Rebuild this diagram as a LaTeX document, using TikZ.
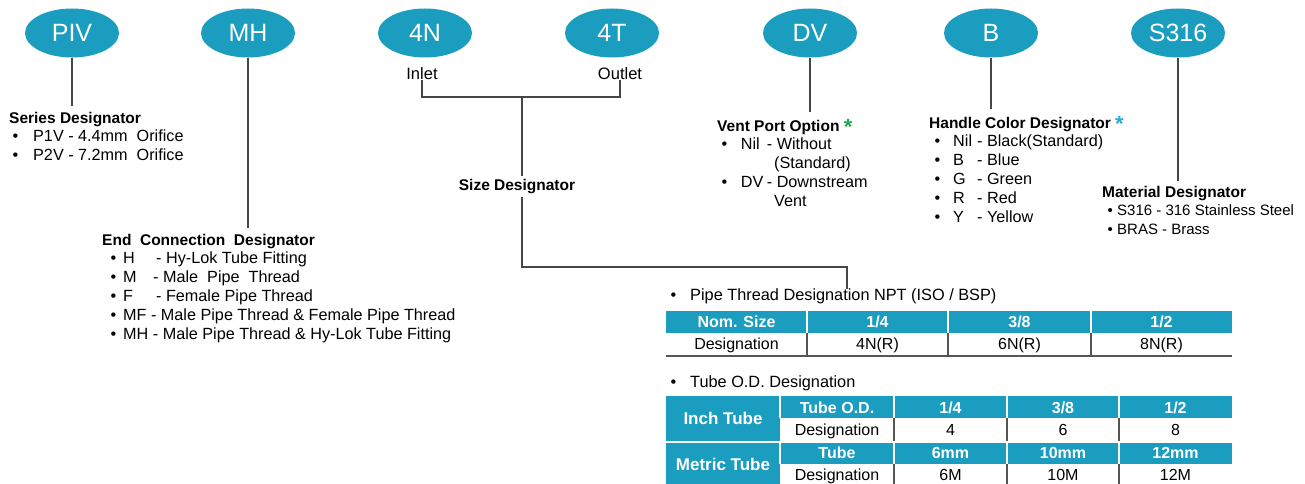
\documentclass[tikz,border=0pt]{standalone}
\usepackage{fontspec}
\setmainfont{Liberation Sans}
\usetikzlibrary{positioning}
\usetikzlibrary{shapes.geometric}
\definecolor{hylokteal}{RGB}{27,157,192}
\definecolor{ventgreen}{RGB}{38,166,76}
\definecolor{handleblue}{RGB}{41,168,214}
\definecolor{leadgray}{RGB}{70,70,70}
\definecolor{rulegray}{RGB}{85,85,85}
\newcommand{\bulletat}[2]{\hspace*{#1pt}\makebox[#2pt][l]{\textbullet}}
\newcommand{\titlefont}{\bfseries\fontsize{15.5}{19}\selectfont}
\newcommand{\bigstar}[1]{\raisebox{-2.5pt}{\textcolor{#1}{\fontsize{22}{22}\selectfont *}}}

\begin{document}
\begin{tikzpicture}[x=1pt, y=-1pt,
        codeoval/.style={ellipse, fill=hylokteal, text=white, minimum width=94pt, minimum height=49pt,
                         inner sep=0pt, font=\fontsize{25}{25}\selectfont},
        lead/.style={draw=leadgray, line width=1.3pt},
        desgblock/.style={anchor=north west, inner sep=0pt, align=left, font=\fontsize{16.2}{19}\selectfont},
        portlabel/.style={anchor=base, inner sep=0pt, font=\fontsize{16.5}{16.5}\selectfont},
        notelabel/.style={anchor=base west, inner sep=0pt, font=\fontsize{16.3}{16.3}\selectfont},
        hdtext/.style={anchor=base, inner sep=0pt, text=white, font=\bfseries\fontsize{16}{16}\selectfont},
        dttext/.style={anchor=base, inner sep=0pt, font=\fontsize{16}{16}\selectfont},
        sidetext/.style={anchor=base, inner sep=0pt, text=white, font=\bfseries\fontsize{17}{17}\selectfont}]
            \useasboundingbox (0,0) rectangle (1305,484);

            % code ovals
            \node[codeoval] (piv)  at (  72,33) {PIV};
            \node[codeoval] (mh)   at ( 248,33) {MH};
            \node[codeoval] (fourn) at (425,33) {4N};
            \node[codeoval] (fourt) at (612,33) {4T};
            \node[codeoval] (dv)   at ( 810,33) {DV};
            \node[codeoval] (b)    at ( 991,33) {B};
            \node[codeoval] (sss)  at (1178,33) {S316};

            % designator blocks
            \node[desgblock] (series) at (9,110.2) {\begin{tabular}{@{}l@{}}
                {\titlefont Series Designator}\\[-1.5pt]
                \bulletat{3.4}{20.6}P1V - 4.4mm\ \ Orifice\\
                \bulletat{3.4}{20.6}P2V - 7.2mm\ \ Orifice
            \end{tabular}};
            \node[desgblock] (endconn) at (102,232.2) {\begin{tabular}{@{}l@{}}
                {\titlefont End\ \ Connection\ \ Designator}\\[-1.5pt]
                \bulletat{8.4}{12.6}\makebox[33pt][l]{H}- Hy-Lok Tube Fitting\\
                \bulletat{8.4}{12.6}\makebox[30pt][l]{M}- Male\ \ Pipe\ \ Thread\\
                \bulletat{8.4}{12.6}\makebox[33pt][l]{F}- Female Pipe Thread\\
                \bulletat{8.4}{12.6}MF - Male Pipe Thread \& Female Pipe Thread\\
                \bulletat{8.4}{12.6}MH - Male Pipe Thread \& Hy-Lok Tube Fitting
            \end{tabular}};
            \node[desgblock] (vent) at (717,118.2) {\begin{tabular}{@{}l@{}}
                {\titlefont Vent Port Option \bigstar{ventgreen}}\\[-1.5pt]
                \bulletat{4.4}{19.3}\makebox[26pt][l]{Nil}- Without\\
                \hspace*{57pt}(Standard)\\
                \bulletat{4.4}{19.3}\makebox[26pt][l]{DV}- Downstream\\
                \hspace*{57pt}Vent
            \end{tabular}};
            \node[desgblock] (handle) at (929,115.2) {\begin{tabular}{@{}l@{}}
                {\titlefont Handle Color Designator \bigstar{handleblue}}\\[-1.5pt]
                \bulletat{5.4}{18.6}\makebox[24pt][l]{Nil}- Black(Standard)\\
                \bulletat{5.4}{18.6}\makebox[24pt][l]{B}- Blue\\
                \bulletat{5.4}{18.6}\makebox[24pt][l]{G}- Green\\
                \bulletat{5.4}{18.6}\makebox[24pt][l]{R}- Red\\
                \bulletat{5.4}{18.6}\makebox[24pt][l]{Y}- Yellow
            \end{tabular}};
            \node[desgblock, font=\fontsize{15}{19}\selectfont] (material) at (1102,184.2) {\begin{tabular}{@{}l@{}}
                {\titlefont Material Designator}\\[-1.5pt]
                \bulletat{5.4}{9.6}S316 - 316 Stainless Steel\\
                \bulletat{5.4}{9.6}BRAS - Brass
            \end{tabular}};

            % size designator
            \node[portlabel] (inlet)  at (422,79.7) {Inlet};
            \node[portlabel] (outlet) at (620,79.7) {Outlet};
            \node[anchor=base, inner sep=3pt, font=\titlefont] (sizedesg) at (517,190.5) {Size Designator};
            \coordinate (sizejoin) at (522,97);
            \coordinate (sizebend) at (847,267);
            \node[notelabel] (nptnote)  at (670.4,300.7) {\makebox[19.6pt][l]{\textbullet}Pipe Thread Designation NPT (ISO / BSP)};
            \node[notelabel] (tubenote) at (670.4,387.7) {\makebox[19.6pt][l]{\textbullet}Tube O.D. Designation};

            % leads
            \draw[lead, shorten >=4pt] (piv) -- (piv |- series.north);
            \draw[lead, shorten >=4pt] (mh)  -- (mh |- endconn.north);
            \draw[lead, shorten >=6pt] (dv)  -- (dv |- vent.north);
            \draw[lead, shorten >=6pt] (b)   -- (b |- handle.north);
            \draw[lead, shorten >=3pt] (sss) -- (sss |- material.north);
            \draw[lead] (inlet) |- (sizejoin) -| (outlet);
            \draw[lead] (sizejoin) -- (sizejoin |- sizedesg.north);
            \draw[lead] (sizejoin |- sizedesg.south) |- (sizebend) -- (sizebend |- nptnote.north);

            % pipe thread table
            \fill[hylokteal] (666,311) rectangle (1232,333);
            \draw[white, line width=1.5pt] (807,311) -- (807,333) (948,311) -- (948,333) (1091,311) -- (1091,333);
            \draw[rulegray, line width=1.2pt] (807,333) -- (807,355) (948,333) -- (948,355) (1091,333) -- (1091,355);
            \draw[rulegray, line width=1.5pt] (666,356) -- (1232,356);
            \node[hdtext] (nomsize) at ( 736.5,327.7) {Nom. Size};
            \node[hdtext] (npta)    at ( 877.5,327.7) {1/4};
            \node[hdtext] (nptb)    at (1019.5,327.7) {3/8};
            \node[hdtext] (nptc)    at (1161.5,327.7) {1/2};
            \node[dttext] (nptdesg) at ( 736.5,349.7) {Designation};
            \node[dttext] (nptda)   at ( 877.5,349.7) {4N(R)};
            \node[dttext] (nptdb)   at (1019.5,349.7) {6N(R)};
            \node[dttext] (nptdc)   at (1161.5,349.7) {8N(R)};

            % tube o.d. table
            \fill[hylokteal] (666,396) rectangle (780,441);
            \fill[hylokteal] (666,443) rectangle (780,484);
            \fill[hylokteal] (780,396) rectangle (1232,418);
            \fill[hylokteal] (780,443) rectangle (1232,464);
            \draw[white, line width=1.5pt] (780,396) -- (780,418) (894,396) -- (894,418) (1007,396) -- (1007,418) (1119,396) -- (1119,418)
                                           (780,443) -- (780,464) (894,443) -- (894,464) (1007,443) -- (1007,464) (1119,443) -- (1119,464);
            \draw[rulegray, line width=1.2pt] (894,418) -- (894,441) (1007,418) -- (1007,441) (1119,418) -- (1119,441)
                                              (894,464) -- (894,484) (1007,464) -- (1007,484) (1119,464) -- (1119,484);
            \node[sidetext] (inchtube)   at (723,424.1) {Inch Tube};
            \node[sidetext] (metrictube) at (723,470.1) {Metric Tube};
            \node[hdtext] (tubeod)   at ( 837,413.2) {Tube O.D.};
            \node[hdtext] (incha)    at ( 950.5,413.2) {1/4};
            \node[hdtext] (inchb)    at (1063,413.2) {3/8};
            \node[hdtext] (inchc)    at (1175.5,413.2) {1/2};
            \node[dttext] (inchdesg) at ( 837,435.7) {Designation};
            \node[dttext] (inchda)   at ( 950.5,435.7) {4};
            \node[dttext] (inchdb)   at (1063,435.7) {6};
            \node[dttext] (inchdc)   at (1175.5,435.7) {8};
            \node[hdtext] (tubemm)   at ( 837,458.2) {Tube};
            \node[hdtext] (metrica)  at ( 950.5,458.2) {6mm};
            \node[hdtext] (metricb)  at (1063,458.2) {10mm};
            \node[hdtext] (metricc)  at (1175.5,458.2) {12mm};
            \node[dttext] (metdesg)  at ( 837,480.7) {Designation};
            \node[dttext] (metda)    at ( 950.5,480.7) {6M};
            \node[dttext] (metdb)    at (1063,480.7) {10M};
            \node[dttext] (metdc)    at (1175.5,480.7) {12M};
\end{tikzpicture}
\end{document}
